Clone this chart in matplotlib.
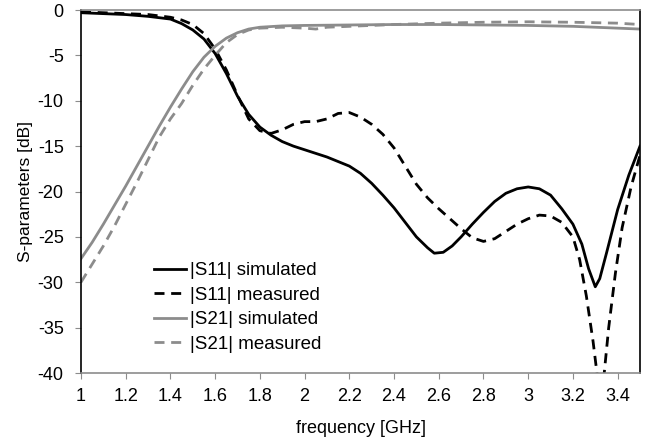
import matplotlib.pyplot as plt

plt.rcParams['font.family'] = ['Liberation Sans', 'DejaVu Sans']
plt.rcParams['axes.unicode_minus'] = False

# |S11| simulato
f_s11_sim = [1.0, 1.1, 1.2, 1.3, 1.4, 1.45, 1.5, 1.55, 1.6, 1.65, 1.7, 1.75, 1.8, 1.85,
             1.9, 1.95, 2.0, 2.05, 2.1, 2.15, 2.2, 2.25, 2.3, 2.35, 2.4, 2.45, 2.5,
             2.55, 2.58, 2.62, 2.66, 2.7, 2.75, 2.8, 2.85, 2.9, 2.95, 3.0, 3.05, 3.1,
             3.15, 3.2, 3.24, 3.27, 3.3, 3.32, 3.35, 3.4, 3.45, 3.5]
s11_sim = [-0.3, -0.4, -0.5, -0.7, -1.0, -1.5, -2.2, -3.2, -4.8, -7.0, -9.5, -11.5, -12.9, -13.8,
           -14.5, -15.0, -15.4, -15.8, -16.2, -16.7, -17.2, -18.0, -19.1, -20.4, -21.8, -23.4, -25.0,
           -26.2, -26.8, -26.7, -26.0, -25.0, -23.6, -22.3, -21.1, -20.2, -19.7, -19.5, -19.7, -20.4,
           -21.9, -23.6, -25.8, -28.5, -30.5, -29.6, -26.8, -22.0, -18.2, -15.0]

# |S11| misurato
f_s11_meas = [1.0, 1.1, 1.2, 1.3, 1.4, 1.45, 1.5, 1.55, 1.6, 1.65, 1.7, 1.75, 1.8, 1.85,
              1.9, 1.95, 2.0, 2.05, 2.1, 2.15, 2.2, 2.25, 2.3, 2.35, 2.4, 2.45, 2.5,
              2.55, 2.6, 2.65, 2.7, 2.75, 2.8, 2.85, 2.9, 2.95, 3.0, 3.05, 3.1, 3.15,
              3.2, 3.23, 3.26, 3.29, 3.31, 3.325, 3.34, 3.36, 3.39, 3.42, 3.46, 3.5]
s11_meas = [-0.2, -0.3, -0.4, -0.5, -0.8, -1.1, -1.6, -2.6, -4.3, -6.6, -9.4, -12.0, -13.3, -13.6,
            -13.2, -12.6, -12.3, -12.3, -12.0, -11.4, -11.3, -11.8, -12.6, -13.7, -15.2, -17.2, -19.2,
            -20.7, -21.9, -23.0, -24.1, -25.1, -25.5, -25.2, -24.4, -23.6, -23.0, -22.6, -22.7, -23.4,
            -25.0, -27.5, -31.5, -36.5, -40.5, -44.0, -40.0, -35.0, -29.0, -24.0, -19.5, -16.0]

# |S21| simulato
f_s21_sim = [1.0, 1.05, 1.1, 1.15, 1.2, 1.25, 1.3, 1.35, 1.4, 1.45, 1.5, 1.55, 1.6, 1.65,
             1.7, 1.75, 1.8, 1.9, 2.0, 2.2, 2.4, 2.6, 2.8, 3.0, 3.2, 3.4, 3.5]
s21_sim = [-27.4, -25.6, -23.6, -21.5, -19.4, -17.2, -15.0, -12.8, -10.7, -8.7, -6.8, -5.2, -4.0, -3.1,
           -2.5, -2.1, -1.9, -1.75, -1.7, -1.65, -1.6, -1.6, -1.65, -1.7, -1.8, -2.0, -2.1]

# |S21| misurato
f_s21_meas = [1.0, 1.05, 1.1, 1.15, 1.2, 1.25, 1.3, 1.35, 1.4, 1.45, 1.5, 1.55, 1.6, 1.65,
              1.7, 1.75, 1.8, 1.9, 2.0, 2.05, 2.1, 2.2, 2.4, 2.6, 2.8, 3.0, 3.2, 3.4, 3.5]
s21_meas = [-30.0, -28.0, -26.0, -23.8, -21.4, -19.0, -16.5, -14.0, -12.0, -10.3, -8.3, -6.5, -5.0, -3.6,
            -2.7, -2.2, -2.0, -1.9, -2.0, -2.1, -1.9, -1.8, -1.6, -1.45, -1.35, -1.3, -1.35, -1.45, -1.6]

x_ticks = [1, 1.2, 1.4, 1.6, 1.8, 2, 2.2, 2.4, 2.6, 2.8, 3, 3.2, 3.4]
x_tick_labels = ['1', '1.2', '1.4', '1.6', '1.8', '2', '2.2', '2.4', '2.6', '2.8', '3', '3.2', '3.4']

grigio = '#8c8c8c'
tratteggio = (0, (3.6, 2.4))

fig = plt.figure(figsize=(6.62, 4.44), dpi=100)
ax = fig.add_axes([81 / 662, 1 - 373 / 444, 559 / 662, 363 / 444])

ax.plot(f_s11_sim, s11_sim, color='black', lw=2, label='|S11| simulated')
ax.plot(f_s11_meas, s11_meas, color='black', lw=2, ls=tratteggio, label='|S11| measured')
ax.plot(f_s21_sim, s21_sim, color=grigio, lw=2, label='|S21| simulated')
ax.plot(f_s21_meas, s21_meas, color=grigio, lw=2, ls=tratteggio, label='|S21| measured')

ax.set_xlim(1, 3.5)
ax.set_ylim(-40, 0)
ax.set_xticks(x_ticks)
ax.set_xticklabels(x_tick_labels)
ax.set_yticks(range(-40, 1, 5))
ax.tick_params(direction='out', length=4, color=grigio, labelsize=13)
ax.tick_params(axis='x', pad=6.5)
ax.tick_params(axis='y', pad=8.5)

ax.spines['left'].set_color('black')
ax.spines['right'].set_color('black')
ax.spines['top'].set_color(grigio)
ax.spines['bottom'].set_color(grigio)
for s in ax.spines.values():
    s.set_linewidth(1.2)

ax.set_xlabel('frequency [GHz]', fontsize=13)
ax.set_ylabel('S-parameters [dB]', fontsize=12.5)
ax.xaxis.set_label_coords(0.5, -0.13)
ax.yaxis.set_label_coords(-0.085, 0.5)

ax.legend(loc='lower left', bbox_to_anchor=(0.13, 0.055), frameon=False, fontsize=13.5,
          handlelength=1.75, handletextpad=0.2, labelspacing=0.4, borderaxespad=0, borderpad=0)

plt.savefig('out.png', dpi=100)
